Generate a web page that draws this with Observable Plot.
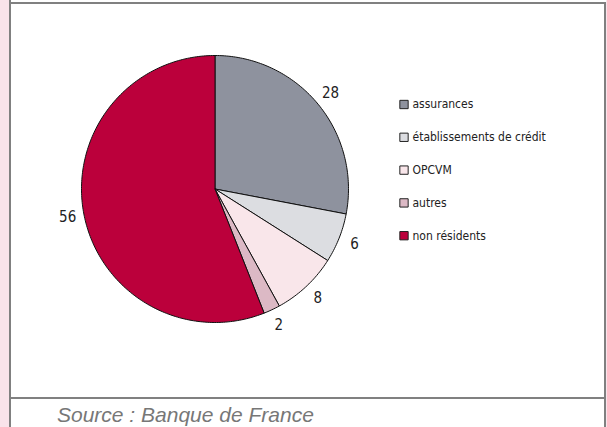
<!DOCTYPE html>
<html><head><meta charset="utf-8">
<script src="https://cdn.jsdelivr.net/npm/d3@7"></script>
<script src="https://cdn.jsdelivr.net/npm/@observablehq/plot@0.6"></script>
<style>
html,body{margin:0;padding:0;background:#fff;width:607px;height:427px;overflow:hidden;position:relative;}
.b{position:absolute;background:#808080;}
#pinkL{position:absolute;left:0;top:0;width:9px;height:427px;background:#f9e3ea;}
#pinkR{position:absolute;left:606px;top:0;width:1px;height:427px;background:#f9e3ea;}
#chart{position:absolute;left:11px;top:4px;}
#src{position:absolute;left:57px;top:404px;font:italic 21px/1 "Liberation Sans",Arial,sans-serif;color:#777;white-space:nowrap;}
</style>
</head><body>
<div id="pinkL"></div><div id="pinkR"></div>
<div class="b" style="left:9px;top:0;width:2px;height:427px"></div>
<div class="b" style="left:9px;top:2px;width:597px;height:2px"></div>
<div class="b" style="left:604px;top:2px;width:2px;height:425px"></div>
<div class="b" style="left:9px;top:397px;width:597px;height:2px"></div>
<div id="chart"></div>
<div id="src">Source : Banque de France</div>
<script>
const categories = ["assurances", "établissements de crédit", "OPCVM", "autres", "non résidents"];
const values = [28, 6, 8, 2, 56];
const labels = ["28", "6", "8", "2", "56"];
const colors = ["#8e929e", "#dcdde1", "#f9e6ea", "#dcb9c5", "#bb003b"];

// layout
const W = 593, H = 393, cx = 203.5, cy = 184.5, R = 133.5, labelR = 150;
const legX = 392.5, legY0 = 100, legDY = 32.8;
const font = '"Liberation Sans Narrow","Arial Narrow","DejaVu Sans Condensed",sans-serif';

const arcs = d3.pie().sort(null).value(d => d)(values);
const poly = [];
arcs.forEach((a, i) => {
  const n = Math.max(2, Math.ceil((a.endAngle - a.startAngle) * 180 / Math.PI));
  poly.push({k: categories[i], x: cx, y: cy});
  for (let j = 0; j <= n; j++) {
    const t = a.startAngle + (a.endAngle - a.startAngle) * j / n;
    poly.push({k: categories[i], x: cx + R * Math.sin(t), y: cy - R * Math.cos(t)});
  }
  poly.push({k: categories[i], x: cx, y: cy});
});
const mid = a => (a.startAngle + a.endAngle) / 2;

const plot = Plot.plot({
  width: W, height: H,
  margin: 0,
  x: {type: "identity", axis: null},
  y: {type: "identity", axis: null},
  color: {domain: categories, range: colors},
  marks: [
    Plot.line(poly, {x: "x", y: "y", z: "k", fill: "k", stroke: "#111", strokeWidth: 1, strokeLinejoin: "round"}),
    Plot.text(arcs, {
      x: a => cx + labelR * Math.sin(mid(a)),
      y: a => cy - labelR * Math.cos(mid(a)),
      text: (a, i) => labels[i],
      fontSize: 15, fill: "#222", fontFamily: font
    }),
    Plot.dot(categories, {
      x: () => legX, y: (d, i) => legY0 + i * legDY,
      symbol: "square", r: 4.7, fill: d => d, stroke: "#222", strokeWidth: 1
    }),
    Plot.text(categories, {
      x: () => legX + 8.5, y: (d, i) => legY0 + i * legDY, text: d => d,
      textAnchor: "start", fontSize: 12, fill: "#222", fontFamily: font
    })
  ]
});
document.getElementById("chart").appendChild(plot);
</script>
</body></html>
